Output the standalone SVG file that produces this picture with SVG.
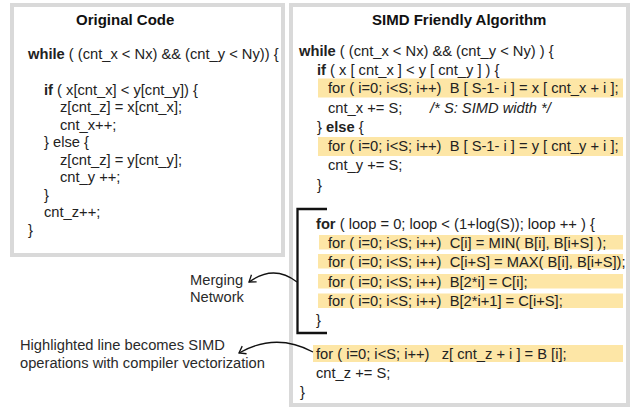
<svg xmlns="http://www.w3.org/2000/svg" width="630" height="409" viewBox="0 0 630 409">
<style>
text{font-family:"Liberation Sans",Arial,sans-serif;font-size:14.7px;fill:#222;white-space:pre}
.t{font-weight:bold;font-size:15px;fill:#111}
b,.b{font-weight:bold}
.panel{fill:#fff;stroke:#d9d9d9;stroke-width:4}
.hl{fill:#fde6a6}
.lbl{fill:#2a2a2a}
.con{fill:none;stroke:#111;stroke-width:1.3}
.br{fill:none;stroke:#111;stroke-width:2.3}
</style>
<defs>
<marker id="ah" markerUnits="userSpaceOnUse" markerWidth="14" markerHeight="14" viewBox="-10 -7 14 14" refX="0" refY="0" orient="auto">
<path d="M-6.2,-4.4 L0,0 L-6.2,4.4" fill="none" stroke="#111" stroke-width="1.3"/>
</marker>
</defs>
<g id="original-code">
<rect class="panel" x="12" y="5" width="271" height="250"/>
<text class="t" x="76" y="25">Original Code</text>
<text x="28" y="58.5"><tspan class="b">while</tspan> ( (cnt_x &lt; Nx) &amp;&amp; (cnt_y &lt; Ny)) {</text>
<text x="44" y="94.5"><tspan class="b">if</tspan> ( x[cnt_x] &lt; y[cnt_y]) {</text>
<text x="60" y="112">z[cnt_z] = x[cnt_x];</text>
<text x="60" y="129.5">cnt_x++;</text>
<text x="44" y="147">} else {</text>
<text x="60" y="164.5">z[cnt_z] = y[cnt_y];</text>
<text x="60" y="182">cnt_y ++;</text>
<text x="44" y="199.5">}</text>
<text x="44" y="217">cnt_z++;</text>
<text x="28" y="234.5">}</text>
</g>
<g id="simd-algorithm">
<rect class="panel" x="291" y="5" width="337" height="400"/>
<text class="t" x="372" y="25">SIMD Friendly Algorithm</text>
<text x="299" y="56"><tspan class="b">while</tspan> ( (cnt_x &lt; Nx) &amp;&amp; (cnt_y &lt; Ny) ) {</text>
<text x="317" y="74.5"><tspan class="b">if</tspan> ( x [ cnt_x ] &lt; y [ cnt_y ] ) {</text>
<rect class="hl" x="318" y="78.5" width="305" height="19"/>
<text x="328" y="93">for ( i=0; i&lt;S; i++)  B [ S-1- i ] = x [ cnt_x + i ];</text>
<text x="328" y="112.5">cnt_x += S;</text>
<text x="430" y="112.5" font-style="italic">/* S: SIMD width */</text>
<text x="317" y="131.5">} <tspan class="b">else</tspan> {</text>
<rect class="hl" x="318" y="137" width="305" height="19"/>
<text x="328" y="151">for ( i=0; i&lt;S; i++)  B [ S-1- i ] = y [ cnt_y + i ];</text>
<text x="328" y="170">cnt_y += S;</text>
<text x="317" y="189.5">}</text>
</g>
<g id="merging-network">
<text x="316" y="229"><tspan class="b">for</tspan> ( loop = 0; loop &lt; (1+log(S)); loop ++ ) {</text>
<rect class="hl" x="319" y="235" width="304" height="14.5"/>
<rect class="hl" x="318" y="254" width="305" height="14.5"/>
<rect class="hl" x="318" y="274" width="305" height="14.5"/>
<rect class="hl" x="318" y="293.5" width="305" height="14.5"/>
<text x="328" y="247.5">for ( i=0; i&lt;S; i++)  C[i] = MIN( B[i], B[i+S] );</text>
<text x="328" y="266.5">for ( i=0; i&lt;S; i++)  C[i+S] = MAX( B[i], B[i+S]);</text>
<text x="328" y="286.5">for ( i=0; i&lt;S; i++)  B[2*i] = C[i];</text>
<text x="328" y="305.5">for ( i=0; i&lt;S; i++)  B[2*i+1] = C[i+S];</text>
<text x="316" y="325">}</text>
<path class="br" d="M327,209 H297.5 V333 H327"/>
</g>
<g id="final-copy">
<rect class="hl" x="313" y="345" width="310" height="17"/>
<text x="316" y="359">for ( i=0; i&lt;S; i++)   z[ cnt_z + i ] = B [i];</text>
<text x="316" y="378">cnt_z += S;</text>
<text x="300" y="396.5">}</text>
</g>
<g id="label-merging">
<text class="lbl" x="190" y="285">Merging</text>
<text class="lbl" x="190" y="302">Network</text>
</g>
<g id="label-highlighted">
<text class="lbl" x="20" y="350">Highlighted line becomes SIMD</text>
<text class="lbl" x="20" y="368">operations with compiler vectorization</text>
</g>
<g id="connectors">
<path class="con" d="M297,282 Q274,264 249,282" marker-end="url(#ah)"/>
<path class="con" d="M313,352 Q276,332 239,353" marker-end="url(#ah)"/>
</g>
</svg>
